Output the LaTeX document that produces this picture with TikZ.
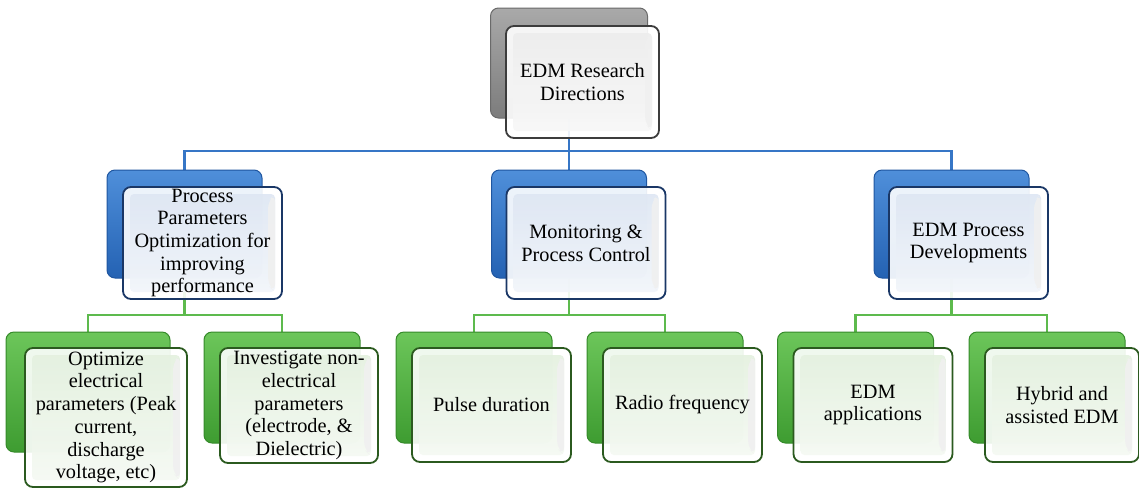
\documentclass[tikz,border=0pt]{standalone}
\usepackage{fontspec}
\setmainfont{Liberation Serif}
\usetikzlibrary{backgrounds}
\definecolor{BlueTop}{HTML}{4F8FDA}
\definecolor{BlueBot}{HTML}{2462B3}
\definecolor{BlueEdge}{HTML}{1F56A0}
\definecolor{BlueLine}{HTML}{3676C6}
\definecolor{BlueFrontEdge}{HTML}{1A3766}
\definecolor{BlueTint}{HTML}{DCE5F2}
\definecolor{GreenTop}{HTML}{6CC65A}
\definecolor{GreenBot}{HTML}{3E9C31}
\definecolor{GreenEdge}{HTML}{358A2A}
\definecolor{GreenLine}{HTML}{5DBA4D}
\definecolor{GreenFrontEdge}{HTML}{2B5A1F}
\definecolor{GreenTint}{HTML}{E3F0DE}
\definecolor{GrayTop}{HTML}{A9A9A9}
\definecolor{GrayBot}{HTML}{7C7C7C}
\definecolor{GrayEdge}{HTML}{6A6A6A}
\definecolor{GrayFrontEdge}{HTML}{3C3C3C}
\definecolor{GrayTint}{HTML}{ECECEC}
\begin{document}
\begin{tikzpicture}[x=1pt,y=-1pt,
  backbox/.style={rounded corners=8pt, line width=1pt, inner sep=0pt,
    minimum width=156pt, minimum height=111pt},
  backgray/.style={backbox, draw=GrayEdge, top color=GrayTop, bottom color=GrayBot},
  backblue/.style={backbox, draw=BlueEdge, top color=BlueTop, bottom color=BlueBot, minimum width=155pt, minimum height=108pt},
  backgreen/.style={backbox, draw=GreenEdge, top color=GreenTop, bottom color=GreenBot},
  frontbox/.style={rounded corners=8pt, line width=1.8pt, fill=white, fill opacity=0.9,
    text opacity=1, align=center, inner sep=0pt,
    font=\fontsize{20.3}{22.7}\selectfont,
    minimum width=159pt, minimum height=114pt,
    path picture={
      \shade[top color=#1, bottom color=#1!35!white, rounded corners=4pt]
        ([xshift=7pt,yshift=-7pt]path picture bounding box.north west) rectangle
        ([xshift=-7pt,yshift=7pt]path picture bounding box.south east);
      \fill[black!6]
        ([xshift=-14pt,yshift=-14pt]path picture bounding box.north east) --
        ([xshift=-7pt,yshift=-7pt]path picture bounding box.north east) --
        ([xshift=-7pt,yshift=7pt]path picture bounding box.south east) --
        ([xshift=-14pt,yshift=14pt]path picture bounding box.south east) -- cycle;
    }},
  frontgray/.style={frontbox=GrayTint, draw=GrayFrontEdge},
  frontblue/.style={frontbox=BlueTint, draw=BlueFrontEdge},
  frontgreen/.style={frontbox=GreenTint, draw=GreenFrontEdge},
  bline/.style={draw=BlueLine, line width=2.4pt},
  gline/.style={draw=GreenLine, line width=2.4pt}
]
\useasboundingbox (0,0) rectangle (1139,488);

% back boxes
\node[backgray, minimum width=157pt, minimum height=110pt] (top) at (569,63) {};
\node[backblue] (b1) at (184.5,224) {};
\node[backblue] (b2) at (569,224) {};
\node[backblue] (b3) at (951.5,224) {};
\node[backgreen, minimum width=164pt, minimum height=120pt] (g1) at (88,392) {};
\node[backgreen] (g2) at (282,387.5) {};
\node[backgreen] (g3) at (474,387.5) {};
\node[backgreen] (g4) at (665,387.5) {};
\node[backgreen] (g5) at (855.5,387.5) {};
\node[backgreen] (g6) at (1047,387.5) {};

% front boxes
\node[frontgray, minimum width=153pt, minimum height=112pt] (ftop) at (582.5,82) {EDM Research\\Directions};
\node[frontblue, minimum height=112pt] (fb1) at (202.5,243) {Process\\Parameters\\Optimization for\\improving\\performance};
\node[frontblue, minimum height=112pt] (fb2) at (586,243) {Monitoring \&\\Process Control};
\node[frontblue, minimum height=112pt] (fb3) at (968.5,243) {EDM Process\\Developments};
\node[frontgreen, minimum width=162pt, minimum height=139pt] (fg1) at (106,417.5) {Optimize\\electrical\\parameters (Peak\\current,\\discharge\\voltage, etc)};
\node[frontgreen, minimum width=158pt, minimum height=115pt] (fg2) at (299,405.5) {Investigate non-\\electrical\\parameters\\(electrode, \&\\Dielectric)};
\node[frontgreen] (fg3) at (491.5,405) {Pulse duration};
\node[frontgreen] (fg4) at (682.5,405) {Radio frequency};
\node[frontgreen] (fg5) at (873,405) {EDM\\applications};
\node[frontgreen, minimum width=154pt] (fg6) at (1062,405) {Hybrid and\\assisted EDM};

% connectors
\begin{scope}[on background layer]
  \coordinate (hb) at (569,151);
  \coordinate (h1) at (184.5,315);
  \coordinate (h2) at (569,315);
  \coordinate (h3) at (951.5,315);
  \draw[bline] (top.south) -- (b2.north);
  \draw[bline] (b1.north) |- (hb) -| (b3.north);
  \draw[gline] (b1.south) -- (h1);
  \draw[gline] (g1.north) |- (h1) -| (g2.north);
  \draw[gline] (b2.south) -- (h2);
  \draw[gline] (g3.north) |- (h2) -| (g4.north);
  \draw[gline] (b3.south) -- (h3);
  \draw[gline] (g5.north) |- (h3) -| (g6.north);
\end{scope}
\end{tikzpicture}
\end{document}
